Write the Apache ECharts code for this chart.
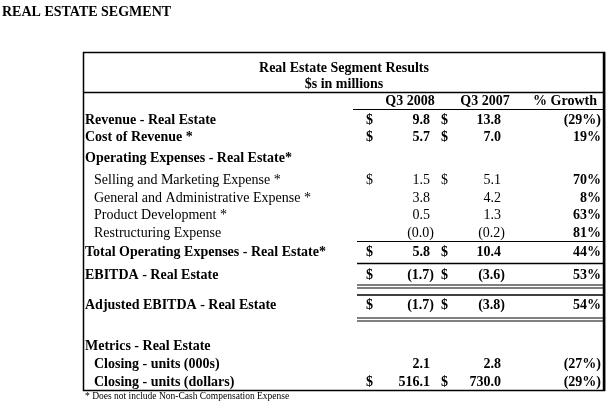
<!DOCTYPE html>
<html><head><meta charset="utf-8">
<script src="https://cdn.jsdelivr.net/npm/echarts@6/dist/echarts.min.js"></script>
<style>html,body{margin:0;background:#fff}#c{width:609px;height:405px}</style>
</head><body><div id="c"></div>
<script>
const labels = ["Revenue - Real Estate","Cost of Revenue *","Operating Expenses - Real Estate*","  Selling and Marketing Expense *","  General and Administrative Expense *","  Product Development *","  Restructuring Expense","Total Operating Expenses - Real Estate*","EBITDA - Real Estate","Adjusted EBITDA - Real Estate","Metrics - Real Estate","  Closing - units (000s)","  Closing - units (dollars)"];
const q3_2008 = ["9.8","5.7","","1.5","3.8","0.5","(0.0)","5.8","(1.7)","(1.7)","","2.1","516.1"];
const q3_2007 = ["13.8","7.0","","5.1","4.2","1.3","(0.2)","10.4","(3.6)","(3.8)","","2.8","730.0"];
const growth = ["(29%)","19%","","70%","8%","63%","81%","44%","53%","54%","","(27%)","(29%)"];
const dollar = [1,1,0,1,0,0,0,1,1,1,0,0,1];
const boldRow = [1,1,1,0,0,0,0,1,1,1,1,1,1];
const boldVal = [1,1,0,0,0,0,0,1,1,1,0,1,1];
const rowY = [120,137,158,180,198,215,233,252,275,305,346,364,382];
const F='"Liberation Serif", "Times New Roman", serif';
const g=[];
function t(x,y,s,opt){g.push({type:'text',x:x,y:y,style:{text:s,font:(opt.b?'bold ':'')+(opt.fs||14)+'px '+F,fill:'#000',textAlign:opt.a||'left',textVerticalAlign:'middle'}});}
function ln(x1,y1,x2,y2,w){g.push({type:'line',shape:{x1,y1,x2,y2},style:{stroke:'#000',lineWidth:w||1}});}
t(2,12,'REAL ESTATE SEGMENT',{b:1,fs:14});
g.push({type:'rect',shape:{x:83.5,y:52.5,width:521,height:338},style:{fill:'none',stroke:'#000',lineWidth:1.5}});
ln(604,52,604,391,2.5);
t(344,68,'Real Estate Segment Results',{b:1,a:'center'});
t(344,84,'$s in millions',{b:1,a:'center'});
ln(83,92.5,605,92.5,1.5);
t(410,101,'Q3 2008',{b:1,a:'center'});
t(485,101,'Q3 2007',{b:1,a:'center'});
t(565,101,'% Growth',{b:1,a:'center'});
ln(353,109.5,604,109.5,1);
labels.forEach((l,i)=>{
  const ind=l.startsWith('  ');
  t(ind?94:85,rowY[i],l.trim(),{b:boldRow[i]});
  if(dollar[i]){t(366,rowY[i],'$',{b:boldVal[i]});t(441,rowY[i],'$',{b:boldVal[i]});}
  const p08=q3_2008[i].startsWith('(')?434:430, p07=q3_2007[i].startsWith('(')?505:501;
  t(p08,rowY[i],q3_2008[i],{b:boldVal[i],a:'right'});
  t(p07,rowY[i],q3_2007[i],{b:boldVal[i],a:'right'});
  t(601,rowY[i],growth[i],{b:1,a:'right'});
});
ln(357,241.5,604,241.5,1);
ln(357,263.5,604,263.5,1.5);
ln(357,285,604,285,1);ln(357,288,604,288,1);
ln(357,295,604,295,1.5);
ln(357,318,604,318,1);ln(357,321,604,321,1);
t(85,396,'* Does not include Non-Cash Compensation Expense',{fs:9.5});
const ch=echarts.init(document.getElementById('c'),null,{renderer:'canvas'});
ch.setOption({animation:false,graphic:{elements:g}});
</script></body></html>
